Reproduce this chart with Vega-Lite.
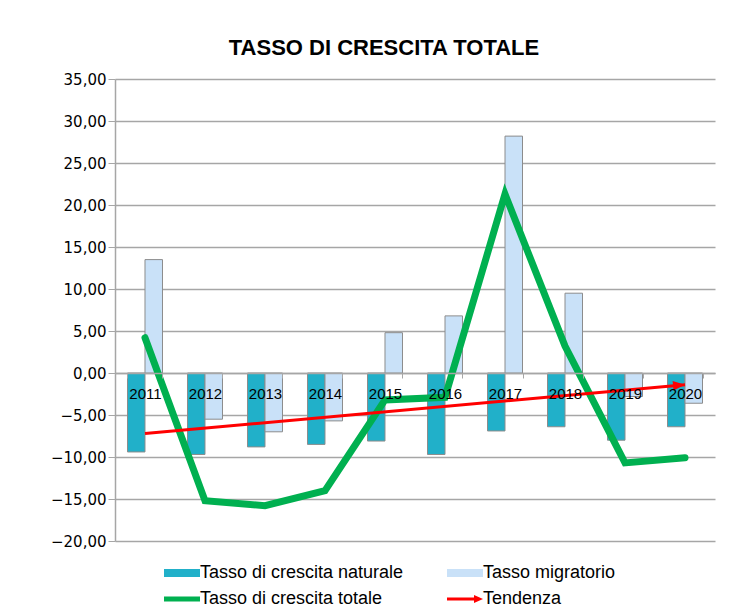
{
  "$schema": "https://vega.github.io/schema/vega-lite/v6.json",
  "width": 600,
  "height": 462,
  "autosize": "none",
  "padding": {"left": 115, "top": 79, "right": 19, "bottom": 71},
  "background": "white",
  "title": {
    "text": "TASSO DI CRESCITA TOTALE",
    "font": "Liberation Sans",
    "fontSize": 22,
    "fontWeight": "bold",
    "color": "#000000",
    "anchor": "middle",
    "dx": -31,
    "offset": 12
  },
  "config": {
    "view": {"stroke": null},
    "axis": {"labelColor": "#000000", "gridColor": "#a6a6a6", "domainColor": "#a6a6a6", "tickColor": "#a6a6a6"}
  },
  "datasets": {
    "barre": [
      {"anno": "2011", "serie": "Tasso di crescita naturale", "valore": -9.4},
      {"anno": "2011", "serie": "Tasso migratorio", "valore": 13.5},
      {"anno": "2012", "serie": "Tasso di crescita naturale", "valore": -9.7},
      {"anno": "2012", "serie": "Tasso migratorio", "valore": -5.5},
      {"anno": "2013", "serie": "Tasso di crescita naturale", "valore": -8.8},
      {"anno": "2013", "serie": "Tasso migratorio", "valore": -7.0},
      {"anno": "2014", "serie": "Tasso di crescita naturale", "valore": -8.5},
      {"anno": "2014", "serie": "Tasso migratorio", "valore": -5.7},
      {"anno": "2015", "serie": "Tasso di crescita naturale", "valore": -8.1},
      {"anno": "2015", "serie": "Tasso migratorio", "valore": 4.8},
      {"anno": "2016", "serie": "Tasso di crescita naturale", "valore": -9.7},
      {"anno": "2016", "serie": "Tasso migratorio", "valore": 6.8},
      {"anno": "2017", "serie": "Tasso di crescita naturale", "valore": -6.9},
      {"anno": "2017", "serie": "Tasso migratorio", "valore": 28.2},
      {"anno": "2018", "serie": "Tasso di crescita naturale", "valore": -6.4},
      {"anno": "2018", "serie": "Tasso migratorio", "valore": 9.5},
      {"anno": "2019", "serie": "Tasso di crescita naturale", "valore": -8.0},
      {"anno": "2019", "serie": "Tasso migratorio", "valore": -2.8},
      {"anno": "2020", "serie": "Tasso di crescita naturale", "valore": -6.4},
      {"anno": "2020", "serie": "Tasso migratorio", "valore": -3.6}
    ],
    "totale": [
      {"anno": "2011", "valore": 4.2},
      {"anno": "2012", "valore": -15.2},
      {"anno": "2013", "valore": -15.8},
      {"anno": "2014", "valore": -14.0},
      {"anno": "2015", "valore": -3.2},
      {"anno": "2016", "valore": -2.9},
      {"anno": "2017", "valore": 21.3},
      {"anno": "2018", "valore": 3.2},
      {"anno": "2019", "valore": -10.7},
      {"anno": "2020", "valore": -10.1}
    ],
    "tendenza": [
      {"anno": "2011", "valore": -7.2},
      {"anno": "2020", "valore": -1.4}
    ]
  },
  "encoding": {
    "x": {
      "field": "anno",
      "type": "nominal",
      "scale": {"domain": ["2011","2012","2013","2014","2015","2016","2017","2018","2019","2020"], "paddingInner": 0.4167, "paddingOuter": 0.2083},
      "axis": {
        "title": null,
        "labelAngle": 0,
        "labelFont": "Liberation Sans",
        "labelFontSize": 15,
        "labelPadding": 8,
        "tickBand": "extent",
        "tickSize": 5,
        "offset": -168,
        "zindex": 1,
        "domainColor": "#a6a6a6",
        "domainWidth": 1.5
      }
    },
    "y": {
      "field": "valore",
      "type": "quantitative",
      "scale": {"domain": [-20, 35], "nice": false, "zero": false},
      "axis": {
        "title": null,
        "values": [-20,-15,-10,-5,0,5,10,15,20,25,30,35],
        "labelExpr": "replace(format(datum.value, '.2f'), '.', ',')",
        "labelFont": "DejaVu Sans",
        "labelFontSize": 15,
        "labelPadding": 2,
        "tickSize": 7,
        "gridWidth": 1.5,
        "domainWidth": 1.5
      }
    }
  },
  "layer": [
    {
      "data": {"name": "barre"},
      "mark": {"type": "bar", "stroke": "#8c8c8c", "strokeWidth": 1},
      "encoding": {
        "xOffset": {"field": "serie", "type": "nominal", "scale": {"domain": ["Tasso di crescita naturale", "Tasso migratorio"], "paddingInner": 0, "paddingOuter": 0}},
        "color": {
          "field": "serie",
          "type": "nominal",
          "scale": {
            "domain": ["Tasso di crescita naturale", "Tasso migratorio", "Tasso di crescita totale", "Tendenza"],
            "range": ["#21B0C9", "#C9E1F8", "#00B050", "#FF0000"]
          },
          "legend": {
            "title": null,
            "orient": "none",
            "legendX": 45,
            "legendY": 485,
            "direction": "horizontal",
            "columns": 2,
            "columnPadding": 39,
            "rowPadding": 8,
            "labelFont": "Liberation Sans",
            "labelFontSize": 18,
            "labelColor": "#000000",
            "labelLimit": 400,
            "labelOffset": 22,
            "symbolSize": 100,
            "symbolOpacity": 1,
            "symbolStrokeWidth": 0
          }
        }
      }
    },
    {
      "data": {"name": "barre"},
      "mark": {"type": "point", "filled": true, "opacity": 0, "size": 100},
      "encoding": {
        "xOffset": {"field": "serie", "type": "nominal"},
        "color": {"field": "serie", "type": "nominal"},
        "shape": {
          "field": "serie",
          "type": "nominal",
          "scale": {
            "domain": ["Tasso di crescita naturale", "Tasso migratorio", "Tasso di crescita totale", "Tendenza"],
            "range": ["M-1,-0.8H6.2V0.8H-1Z", "M-1,-0.8H6.2V0.8H-1Z", "M-1,-0.5H6.2V0.5H-1Z", "M-1,-0.3H4.4V-0.8L6.2,0L4.4,0.8V0.3H-1Z"]
          },
          "legend": {
            "title": null,
            "orient": "none",
            "legendX": 45,
            "legendY": 485,
            "direction": "horizontal",
            "columns": 2,
            "columnPadding": 39,
            "rowPadding": 8,
            "labelFont": "Liberation Sans",
            "labelFontSize": 18,
            "labelColor": "#000000",
            "labelLimit": 400,
            "labelOffset": 22,
            "symbolSize": 100,
            "symbolOpacity": 1,
            "symbolStrokeWidth": 0
          }
        }
      }
    },
    {
      "data": {"name": "totale"},
      "mark": {"type": "line", "strokeWidth": 7, "strokeCap": "round"},
      "encoding": {"color": {"datum": "Tasso di crescita totale", "legend": null}}
    },
    {
      "data": {"name": "tendenza"},
      "mark": {"type": "line", "strokeWidth": 3},
      "encoding": {"color": {"datum": "Tendenza", "legend": null}}
    },
    {
      "data": {"name": "tendenza"},
      "transform": [{"filter": "datum.anno == '2020'"}],
      "mark": {"type": "point", "shape": "M0,0L-2,-0.8L-2,0.8Z", "size": 144, "angle": -5, "filled": true, "opacity": 1},
      "encoding": {"color": {"datum": "Tendenza", "legend": null}}
    }
  ]
}
